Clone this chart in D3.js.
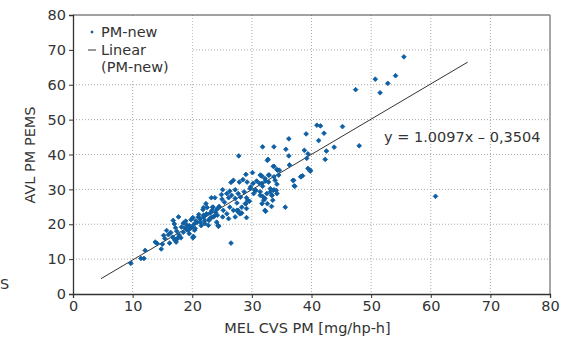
<!DOCTYPE html>
<html>
<head>
<meta charset="utf-8">
<script src="https://cdn.jsdelivr.net/npm/d3@7"></script>
<style>
  body { margin: 0; background: #fff; }
  text { font-family: "DejaVu Sans", sans-serif; fill: #333; }
</style>
</head>
<body>
<div id="chart"></div>
<script>
// axis ticks
const xTicks = [0, 10, 20, 30, 40, 50, 60, 70, 80];
const yTicks = [0, 10, 20, 30, 40, 50, 60, 70, 80];

// PM-new measurements: MEL CVS PM (x) vs AVL PM PEMS (y)
const pmX = [
  9.7, 11.4, 11.9, 12.1, 13.8, 14.1, 14.8, 15.0, 15.4, 15.7, 16.2, 16.4, 16.8, 17.7,
  16.7, 17.1, 17.3, 17.6, 17.0, 17.2, 17.4, 17.8, 18.1, 16.9, 17.4, 18.2, 18.5, 18.5,
  18.9, 19.1, 19.3, 19.5, 19.7, 19.8, 20.1, 20.2, 20.3, 20.5, 20.8, 21.1, 21.3, 21.5,
  21.8, 21.9, 22.1, 22.3, 22.5, 22.8, 23.0, 23.2, 23.4, 23.7, 23.9, 24.1, 24.4, 24.5,
  21.0, 21.9, 22.4, 23.3, 23.5, 24.1, 24.5, 25.2, 25.8, 26.3, 26.9, 21.4, 22.1, 22.9,
  23.5, 24.2, 22.7, 25.1, 26.1, 27.7, 28.3, 28.9, 28.0, 29.1, 21.9, 22.3, 23.2, 23.8,
  24.3, 20.1, 24.9, 25.0, 25.4, 26.1, 26.6, 27.2, 27.5, 27.7, 28.1, 28.7, 29.1, 29.6,
  29.8, 30.3, 30.7, 31.4, 31.8, 32.0, 32.3, 32.6, 33.1, 33.4, 33.7, 34.2, 25.1, 25.8,
  26.3, 27.2, 27.9, 29.2, 30.8, 31.3, 31.8, 32.3, 32.6, 33.6, 34.3, 31.7, 32.9, 33.9,
  34.5, 26.5, 26.9, 28.5, 29.0, 30.1, 27.8, 26.5, 27.5, 27.2, 29.1, 29.0, 29.3, 27.7,
  28.3, 31.4, 32.8, 32.2, 31.7, 32.8, 33.7, 34.2, 33.1, 33.6, 34.1, 33.3, 33.5, 32.2,
  31.4, 31.7, 32.5, 32.2, 33.3, 35.6, 37.0, 37.1, 38.2, 38.5, 39.8, 30.2, 29.7, 30.5,
  31.5, 31.8, 33.7, 32.7, 33.7, 34.2, 34.6, 35.7, 36.2, 36.2, 36.3, 36.9, 37.2, 38.3,
  38.8, 39.2, 39.1, 39.4, 39.4, 39.8, 40.9, 41.5, 41.2, 42.1, 42.5, 42.3, 43.8, 45.2,
  48.0, 47.4, 50.7, 51.5, 52.8, 54.1, 55.5, 60.8, 24.4, 20.2, 20.4, 19.5, 19.9, 20.6,
  15.2, 16.0, 18.8, 19.0
];
const pmY = [
  8.8, 10.2, 10.2, 12.5, 14.9, 14.5, 12.9, 14.3, 15.9, 18.2, 14.6, 17.6, 21.1, 22.1,
  16.3, 15.4, 14.9, 16.1, 20.1, 19.0, 18.0, 16.9, 16.1, 16.0, 15.7, 19.2, 17.7, 20.3,
  20.9, 19.8, 18.2, 17.3, 18.8, 21.3, 21.9, 16.3, 20.0, 18.8, 20.5, 22.8, 21.6, 19.6,
  24.2, 22.1, 20.2, 22.8, 24.8, 21.1, 23.2, 21.9, 24.9, 22.3, 23.4, 20.6, 19.5, 25.1,
  22.1, 22.6, 23.0, 24.0, 24.9, 24.2, 24.9, 24.0, 23.0, 24.9, 24.0, 20.6, 21.1, 21.6,
  22.1, 22.6, 19.7, 22.1, 21.6, 24.0, 24.9, 25.9, 23.0, 24.5, 24.8, 25.9, 27.6, 27.6,
  19.7, 16.1, 28.5, 27.2, 26.3, 27.6, 28.3, 27.4, 26.1, 28.8, 27.8, 29.3, 27.6, 26.6,
  30.7, 28.8, 29.7, 29.3, 28.0, 26.9, 23.7, 25.9, 29.3, 28.3, 29.9, 28.8, 29.9, 28.8,
  29.5, 29.9, 32.1, 32.1, 32.4, 31.7, 30.9, 32.4, 38.3, 36.6, 35.5, 33.8, 34.1, 32.6,
  34.1, 32.0, 32.6, 32.8, 34.3, 34.8, 39.6, 14.6, 24.0, 22.1, 21.9, 25.9, 26.9, 23.5,
  23.2, 34.1, 34.1, 33.1, 31.7, 32.1, 33.6, 31.5, 30.2, 29.7, 29.7, 28.3, 26.9, 27.4,
  28.3, 25.9, 28.8, 24.0, 25.1, 24.9, 32.6, 31.0, 33.6, 33.9, 35.5, 31.7, 30.2, 29.7,
  34.0, 42.2, 42.2, 38.6, 36.6, 35.7, 35.5, 41.5, 44.5, 39.6, 37.0, 32.6, 30.9, 33.7,
  41.2, 38.9, 45.9, 40.2, 36.0, 35.2, 48.4, 48.2, 44.0, 46.1, 41.0, 38.6, 42.1, 48.0,
  42.5, 58.6, 61.6, 57.7, 60.4, 62.6, 68.0, 28.0, 19.4, 16.5, 18.3, 19.6, 19.2, 21.0,
  16.8, 17.0, 19.0, 18.5
];

// linear fit
const slope = 1.0097, intercept = -0.3504;
const fitRange = [4.7, 66.2];

const width = 566, height = 344;
const margin = {top: 15, right: 16, bottom: 50, left: 73};
const innerW = width - margin.left - margin.right;
const innerH = height - margin.top - margin.bottom;

const svg = d3.select("#chart").append("svg")
    .attr("width", width)
    .attr("height", height);

const g = svg.append("g")
    .attr("transform", "translate(" + margin.left + "," + margin.top + ")");

const x = d3.scaleLinear().domain([0, 80]).range([0, innerW]);
const y = d3.scaleLinear().domain([0, 80]).range([innerH, 0]);

// dotted grid
g.append("g").selectAll("line").data(xTicks.slice(1, -1)).enter().append("line")
    .attr("x1", d => x(d)).attr("x2", d => x(d))
    .attr("y1", 0).attr("y2", innerH)
    .attr("stroke", "#aaa").attr("stroke-dasharray", "1,2");
g.append("g").selectAll("line").data(yTicks.slice(1, -1)).enter().append("line")
    .attr("y1", d => y(d)).attr("y2", d => y(d))
    .attr("x1", 0).attr("x2", innerW)
    .attr("stroke", "#aaa").attr("stroke-dasharray", "1,2");

// frame: top and right
g.append("line").attr("x1", 0).attr("x2", innerW).attr("y1", 0).attr("y2", 0)
    .attr("stroke", "#444");
g.append("line").attr("x1", innerW).attr("x2", innerW).attr("y1", 0).attr("y2", innerH)
    .attr("stroke", "#888").attr("stroke-width", 1.5);

// legend background hides the grid behind it
g.append("rect").attr("x", 1).attr("y", 1).attr("width", 118).attr("height", 64)
    .attr("fill", "#fff");

// axes
const xAxis = d3.axisBottom(x).tickValues(xTicks).tickSize(4).tickPadding(3);
const yAxis = d3.axisLeft(y).tickValues(yTicks).tickSize(4).tickPadding(3);

const gx = g.append("g").attr("transform", "translate(0," + innerH + ")").call(xAxis);
const gy = g.append("g").call(yAxis);
[gx, gy].forEach(a => {
    a.select(".domain").attr("stroke", "#333").attr("stroke-width", 1.3);
    a.selectAll(".tick line").attr("stroke", "#333");
    a.selectAll(".tick text").attr("fill", "#333")
        .style("font-family", "DejaVu Sans, sans-serif").style("font-size", "14.5px");
});

// fit line
g.append("line")
    .attr("x1", x(fitRange[0])).attr("y1", y(slope * fitRange[0] + intercept))
    .attr("x2", x(fitRange[1])).attr("y2", y(slope * fitRange[1] + intercept))
    .attr("stroke", "#333").attr("stroke-width", 1);

// points: small square turned 45 degrees
const marker = d3.symbol().type(d3.symbolSquare).size(11);
g.append("g").selectAll("path").data(pmX.map((d, i) => [d, pmY[i]])).enter().append("path")
    .attr("d", marker)
    .attr("transform", d => "translate(" + x(d[0]) + "," + y(d[1]) + ") rotate(45)")
    .attr("fill", "#0f5fa3")
    .attr("stroke", "#0f5fa3").attr("stroke-width", 0.8).attr("stroke-linejoin", "round");

// legend
g.append("path").attr("d", d3.symbol().type(d3.symbolSquare).size(6))
    .attr("transform", "translate(19,17) rotate(45)").attr("fill", "#0f5fa3");
g.append("text").attr("x", 28).attr("y", 22).style("font-size", "14.5px").text("PM-new");
g.append("line").attr("x1", 15).attr("x2", 23).attr("y1", 35).attr("y2", 35)
    .attr("stroke", "#333");
g.append("text").attr("x", 28).attr("y", 40).style("font-size", "14.5px").text("Linear");
g.append("text").attr("x", 28).attr("y", 57).style("font-size", "14.5px").text("(PM-new)");

// equation
g.append("text").attr("x", 311).attr("y", 127).style("font-size", "14.5px")
    .text("y = 1.0097x – 0,3504");

// axis titles
svg.append("text").attr("x", margin.left + innerW / 2 - 4).attr("y", 333)
    .attr("text-anchor", "middle").style("font-size", "14.5px")
    .text("MEL CVS PM [mg/hp-h]");
svg.append("text").attr("transform", "translate(35,155) rotate(-90)")
    .attr("text-anchor", "middle").style("font-size", "14.5px")
    .text("AVL PM PEMS");
svg.append("text").attr("x", 0).attr("y", 289).style("font-size", "14.5px").text("S");
</script>
</body>
</html>
